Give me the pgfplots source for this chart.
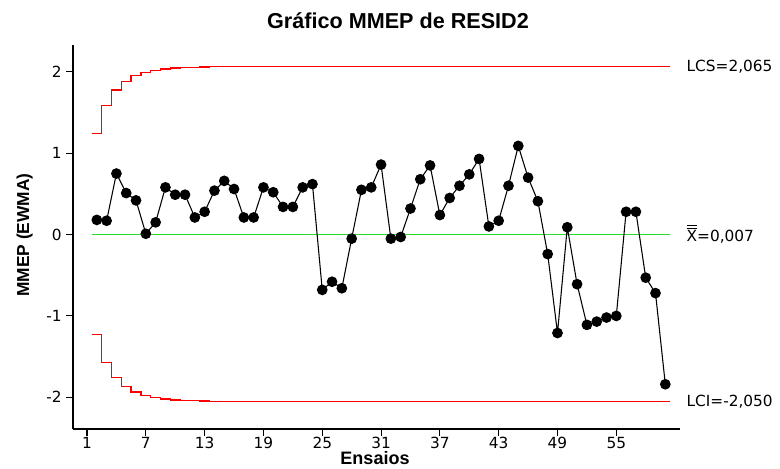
\documentclass[border=0pt]{standalone}
\usepackage{fontspec}
\setmainfont{DejaVu Sans}
\newfontfamily\arialfont{Liberation Sans}
\usepackage{pgfplots}
\pgfplotsset{compat=1.18}
\definecolor{limred}{RGB}{255,0,0}
\definecolor{ctrgreen}{RGB}{40,220,40}

\begin{document}
\begin{tikzpicture}
\path[use as bounding box] (0,0) rectangle (585pt,351pt);
\begin{axis}[
    at={(54.75pt,29.25pt)}, anchor=south west,
    scale only axis, width=455.25pt, height=288pt,
    xmin=-0.43, xmax=61.5, ymin=-2.39, ymax=2.33,
    axis x line=bottom, axis y line=left,
    axis line style={-, line width=0.9pt},
    xtick={1,7,...,55}, ytick={-2,-1,0,1,2},
    tick align=outside, major tick length=5pt,
    tick style={black, line width=0.8pt},
    ticklabel style={font=\fontsize{11.5}{12}\selectfont},
    xticklabel style={yshift=2.5pt},
    /pgf/number format/assume math mode=true,
    clip=false,
]
    % upper and lower control limits (lambda = 0.2)
    \addplot[draw=limred, line width=1pt, const plot mark left, mark=none] coordinates {
        (1.5,1.242) (2.5,1.588) (3.5,1.775) (4.5,1.884) (5.5,1.951) (6.5,1.993)
        (7.5,2.019) (8.5,2.036) (9.5,2.046) (10.5,2.053) (11.5,2.057) (12.5,2.060)
        (13.5,2.065) (60.5,2.065)};
    \addplot[draw=limred, line width=1pt, const plot mark left, mark=none] coordinates {
        (1.5,-1.228) (2.5,-1.574) (3.5,-1.761) (4.5,-1.870) (5.5,-1.937) (6.5,-1.979)
        (7.5,-2.005) (8.5,-2.022) (9.5,-2.032) (10.5,-2.039) (11.5,-2.043) (12.5,-2.046)
        (13.5,-2.050) (60.5,-2.050)};
    % centre line
    \addplot[draw=ctrgreen, line width=0.7pt, mark=none] coordinates {(1.5,0.007) (60.5,0.007)};
    % EWMA
    \addplot[black, line width=0.8pt, mark=*, mark size=3.6pt, mark options={fill=black}] coordinates {
        (2,0.18) (3,0.17) (4,0.75) (5,0.51) (6,0.42) (7,0.01) (8,0.15) (9,0.58)
        (10,0.49) (11,0.49) (12,0.21) (13,0.28) (14,0.54) (15,0.66) (16,0.56)
        (17,0.21) (18,0.21) (19,0.58) (20,0.52) (21,0.34) (22,0.34) (23,0.58)
        (24,0.62) (25,-0.68) (26,-0.58) (27,-0.66) (28,-0.05) (29,0.55) (30,0.58)
        (31,0.86) (32,-0.05) (33,-0.03) (34,0.32) (35,0.68) (36,0.85) (37,0.24)
        (38,0.45) (39,0.60) (40,0.74) (41,0.93) (42,0.10) (43,0.17) (44,0.60)
        (45,1.09) (46,0.70) (47,0.41) (48,-0.24) (49,-1.21) (50,0.09) (51,-0.61)
        (52,-1.11) (53,-1.07) (54,-1.02) (55,-1.00) (56,0.28) (57,0.28)
        (58,-0.53) (59,-0.72) (60,-1.84)};

    \node[anchor=west, font=\fontsize{11.5}{12}\selectfont] at (axis cs:61.7,2.065) {LCS=2,065};
    \node[anchor=west, font=\fontsize{11.5}{12}\selectfont] at (axis cs:61.7,0.007) {$\overline{\overline{\mbox{X}}}$=0,007};
    \node[anchor=west, font=\fontsize{11.5}{12}\selectfont] at (axis cs:61.7,-2.050) {LCI=-2,050};
\end{axis}
\node[font=\arialfont\bfseries\fontsize{16.2}{18}\selectfont] at (298.5pt,335.25pt) {Gráfico MMEP de RESID2};
\node[font=\arialfont\bfseries\fontsize{13.5}{15}\selectfont, inner sep=1pt] at (281.25pt,7.5pt) {Ensaios};
\node[font=\arialfont\bfseries\fontsize{13}{15}\selectfont, rotate=90] at (18.4pt,174.75pt) {MMEP (EWMA)};
\end{tikzpicture}
\end{document}
